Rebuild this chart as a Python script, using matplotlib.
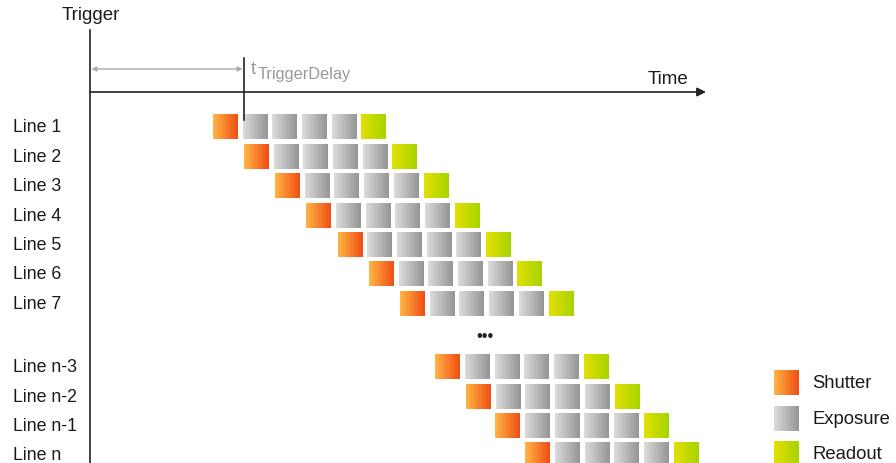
import numpy as np
import matplotlib
matplotlib.use('Agg')
import matplotlib.pyplot as plt
from matplotlib.colors import LinearSegmentedColormap

plt.rcParams['font.family'] = ['Liberation Sans', 'DejaVu Sans']

# line names, row of each line and start (left edge of shutter box) in time units
lineNames = ['Line 1', 'Line 2', 'Line 3', 'Line 4', 'Line 5', 'Line 6', 'Line 7',
             'Line n-3', 'Line n-2', 'Line n-1', 'Line n']
lineRows = [1, 2, 3, 4, 5, 6, 7, 9.16, 10.16, 11.16, 12.16]
lineStarts = [4.14, 5.18, 6.23, 7.28, 8.34, 9.39, 10.44, 11.62, 12.66, 13.64, 14.65]

# phase of each box in one line: 1 shutter, 4 exposure, 1 readout
boxPhases = ['Shutter', 'Exposure', 'Exposure', 'Exposure', 'Exposure', 'Readout']
triggerDelay = 5.19

legendNames = ['Shutter', 'Exposure', 'Readout']
phaseColors = {
    'Shutter': ('#ffb545', '#f04e14'),
    'Exposure': ('#dcdcdc', '#959595'),
    'Readout': ('#e4e000', '#a6d400'),
}
cmaps = {k: LinearSegmentedColormap.from_list(k, v) for k, v in phaseColors.items()}
grad = np.linspace(0, 1, 64).reshape(1, -1)

fig = plt.figure(figsize=(8.96, 4.63), dpi=100)
ax = fig.add_axes([0, 0, 1, 1])
pxX = 29.7
pxY = 29.4
ax.set_xlim(-90 / pxX, 806 / pxX)
ax.set_ylim(1 + 336 / pxY, 1 - 127 / pxY)
ax.axis('off')

boxW = 0.84
boxH = 0.85
txt = '#1a1a1a'

def box(x, r, phase):
    ax.imshow(grad, cmap=cmaps[phase], aspect='auto', interpolation='bilinear',
              extent=[x, x + boxW, r + boxH / 2, r - boxH / 2], zorder=2)

for name, r, s in zip(lineNames, lineRows, lineStarts):
    ax.text(-77 / pxX, r + 0.03, name, fontsize=12.8, va='center', ha='left', color=txt)
    for i, ph in enumerate(boxPhases):
        box(s + i, r, ph)

# dots between line 7 and line n-3
ax.text(13.3, 8.14, '\u2022\u2022\u2022', fontsize=12, ha='center', va='center', color='#222222')

# trigger axis
ax.plot([0, 0], [1 + (30 - 127) / pxY, 13], color='#222222', lw=1.2, zorder=3)
ax.text(-28 / pxX, 1 + (16 - 127) / pxY, 'Trigger', fontsize=13.5, ha='left', va='center', color=txt)

# time axis
yTime = 1 + (92 - 127) / pxY
ax.annotate('', xy=(616 / pxX, yTime), xytext=(0, yTime),
            arrowprops=dict(arrowstyle='-|>', color='#222222', lw=1.2, mutation_scale=13,
                            shrinkA=0, shrinkB=0))
ax.text(578 / pxX, 1 + (79 - 127) / pxY, 'Time', fontsize=13.5, ha='center', va='center', color=txt)

# trigger delay
ax.plot([triggerDelay, triggerDelay], [1 + (58 - 127) / pxY, 1 + (120 - 127) / pxY],
        color='#222222', lw=1.2, zorder=3)
yDel = 1 + (69 - 127) / pxY
ax.annotate('', xy=(triggerDelay - 0.05, yDel), xytext=(0.05, yDel),
            arrowprops=dict(arrowstyle='<|-|>', color='#aaaaaa', lw=1, mutation_scale=7,
                            shrinkA=0, shrinkB=0))
ax.text(triggerDelay + 7 / pxX, 1 + (74 - 127) / pxY, 't', fontsize=13.5, ha='left', va='baseline', color='#999999')
ax.text(triggerDelay + 13.5 / pxX, 1 + (79 - 127) / pxY, 'TriggerDelay', fontsize=11.8, ha='left', va='baseline', color='#999999')

# legend
for i, ph in enumerate(legendNames):
    r = 1 + (383 + i * 35.5 - 127) / pxY
    box(684 / pxX, r, ph)
    ax.text(722 / pxX, r + 0.03, ph, fontsize=13.3, ha='left', va='center', color=txt)

fig.savefig('out.png', dpi=100)
